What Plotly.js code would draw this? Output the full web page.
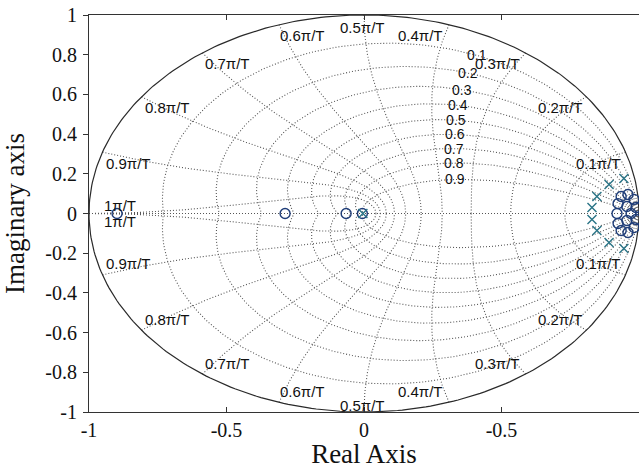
<!DOCTYPE html>
<html><head><meta charset="utf-8">
<script src="https://cdn.plot.ly/plotly-3.0.1.min.js"></script>
<style>body{margin:0;background:#fff}#c{width:639px;height:469px}</style>
</head><body><div id="c"></div><script>
// ---- data ----
const zeroRe = [-0.898, -0.287, -0.065, -0.006,
  0.920, 0.924, 0.935, 0.960, 0.982, 0.989, 0.989, 0.982, 0.960, 0.935, 0.924, 0.956, 0.956, 0.971];
const zeroIm = [0, 0, 0, 0,
  0, 0.050, 0.086, 0.096, 0.071, 0.030, -0.030, -0.071, -0.096, -0.086, -0.050, 0.035, -0.035, 0];
const poleRe = [-0.004, 0.945, 0.891, 0.847, 0.829, 0.829, 0.847, 0.891, 0.945];
const poleIm = [0, 0.176, 0.146, 0.086, 0.030, -0.030, -0.086, -0.146, -0.176];
const zetaVals = [0.1, 0.2, 0.3, 0.4, 0.5, 0.6, 0.7, 0.8, 0.9];
const wnFrac = [0.1, 0.2, 0.3, 0.4, 0.5, 0.6, 0.7, 0.8, 0.9, 1];
const wnLabels = ['0.1\u03c0/T','0.2\u03c0/T','0.3\u03c0/T','0.4\u03c0/T','0.5\u03c0/T','0.6\u03c0/T','0.7\u03c0/T','0.8\u03c0/T','0.9\u03c0/T','1\u03c0/T'];
const xTickVals = [-1, -0.5, 0, 0.5, 1];
const xTickText = ['-1', '-0.5', '0', '-0.5', '1'];
const yTickVals = [-1, -0.8, -0.6, -0.4, -0.2, 0, 0.2, 0.4, 0.6, 0.8, 1];
const yTickText = ['-1', '-0.8', '-0.6', '-0.4', '-0.2', '0', '0.2', '0.4', '0.6', '0.8', '1'];

// ---- grid (z-plane constant damping / natural frequency curves) ----
const gridX = [], gridY = [];
const N = 160;
zetaVals.forEach(z => {
  const q = Math.sqrt(1 - z*z);
  [1, -1].forEach(sg => {
    for (let i = 0; i <= N; i++) {
      const th = Math.PI * i / N;
      const r = Math.exp(-z * th / q);
      gridX.push(r * Math.cos(th)); gridY.push(sg * r * Math.sin(th));
    }
    gridX.push(null); gridY.push(null);
  });
});
wnFrac.forEach(f => {
  const w = f * Math.PI;
  [1, -1].forEach(sg => {
    for (let i = 0; i <= N; i++) {
      const z = i / N;
      const r = Math.exp(-z * w), th = w * Math.sqrt(1 - z*z);
      gridX.push(r * Math.cos(th)); gridY.push(sg * r * Math.sin(th));
    }
    gridX.push(null); gridY.push(null);
  });
});
gridX.push(-1, 1, null); gridY.push(0, 0, null);

const cx = [], cy = [];
for (let i = 0; i <= 360; i++) { const t = 2*Math.PI*i/360; cx.push(Math.cos(t)); cy.push(Math.sin(t)); }

const traces = [
  {x: gridX, y: gridY, mode: 'lines', line: {color: '#555', width: 1.1, dash: '1px,2px'}, hoverinfo: 'skip'},
  {x: cx, y: cy, mode: 'lines', line: {color: '#2a2a2a', width: 1.2}, hoverinfo: 'skip'},
  {x: zeroRe, y: zeroIm, mode: 'markers', marker: {symbol: 'circle-open', size: 10, color: '#1f3d78', line: {width: 1.4, color: '#1f3d78'}}},
  {x: poleRe, y: poleIm, mode: 'markers', marker: {symbol: 'x-thin-open', size: 9, color: '#2a7486', line: {width: 1.4, color: '#2a7486'}}}
];

// ---- labels ----
const lblFont = {family: 'Liberation Sans, Arial, sans-serif', size: 15, color: '#111'};
const zetaFont = {family: 'Liberation Sans, Arial, sans-serif', size: 14, color: '#111'};
const ann = [];
const wLab = 1.1;
zetaVals.forEach(z => {
  const q = Math.sqrt(1 - z*z);
  const r = Math.exp(-z * wLab), th = wLab * q;
  ann.push({x: r*Math.cos(th), y: r*Math.sin(th), text: String(z), showarrow: false, font: zetaFont, xanchor: 'center', yanchor: 'middle'});
});
const wnPosX = [0.851, 0.713, 0.487, 0.204, -0.004, -0.222, -0.495, -0.716, -0.858, -0.887];
const wnPosY = [0.252, 0.534, 0.756, 0.897, 0.937, 0.897, 0.756, 0.534, 0.252, 0.040];
wnLabels.forEach((t, i) => {
  ann.push({x: wnPosX[i], y: wnPosY[i], text: t, showarrow: false, font: lblFont, xanchor: 'center', yanchor: 'middle'});
  ann.push({x: wnPosX[i], y: -wnPosY[i] - (i === 4 ? 0.03 : 0), text: t, showarrow: false, font: lblFont, xanchor: 'center', yanchor: 'middle'});
});

const serif = 'Liberation Serif, Times New Roman, serif';
const layout = {
  width: 639, height: 469, showlegend: false,
  paper_bgcolor: '#fff', plot_bgcolor: '#fff',
  margin: {l: 89, r: 0, t: 15, b: 57},
  font: {family: serif, size: 19, color: '#111'},
  xaxis: {range: [-1, 1], tickvals: xTickVals, ticktext: xTickText, showgrid: false, zeroline: false,
    showline: true, linecolor: '#333', linewidth: 1, mirror: 'ticks', ticks: 'inside', ticklen: 5, tickcolor: '#333',
    ticklabelstandoff: 0,
    tickfont: {family: serif, size: 20}, title: {text: 'Real Axis', font: {family: serif, size: 27}, standoff: 0}},
  yaxis: {range: [-1, 1], tickvals: yTickVals, ticktext: yTickText, showgrid: false, zeroline: false,
    showline: true, linecolor: '#333', linewidth: 1, mirror: 'ticks', ticks: 'outside', ticklen: 5, tickcolor: '#333',
    ticklabelstandoff: 2,
    tickfont: {family: serif, size: 20}, title: {text: 'Imaginary axis', font: {family: serif, size: 27}, standoff: 14}},
  annotations: ann
};
Plotly.newPlot('c', traces, layout, {displayModeBar: false, staticPlot: true});
</script></body></html>
